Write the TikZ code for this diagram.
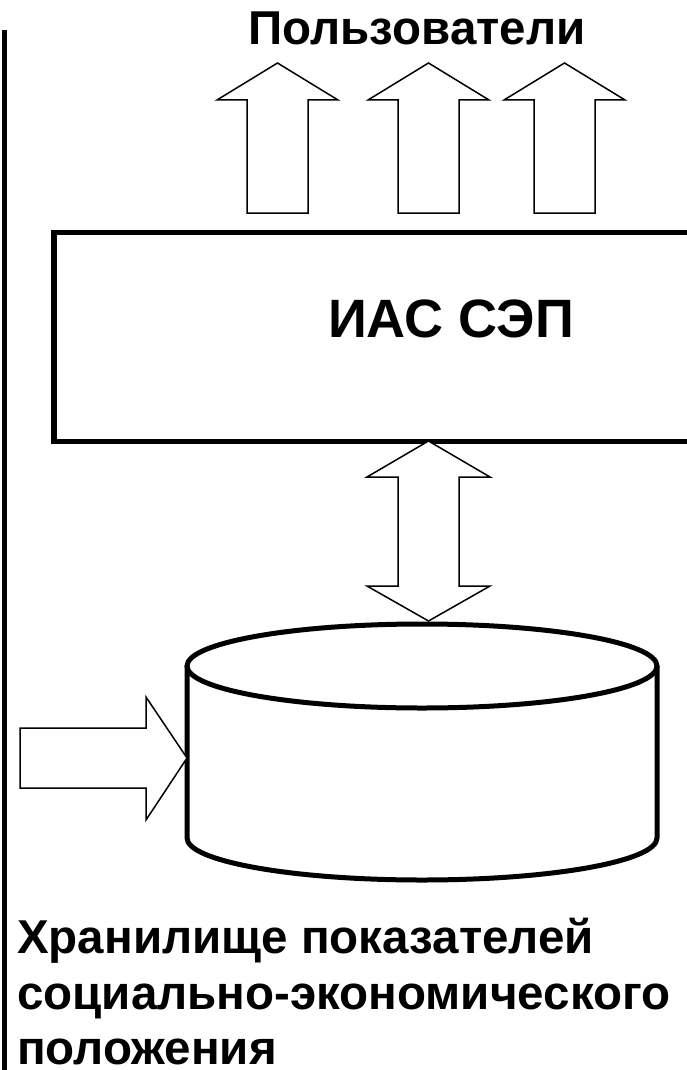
\documentclass[tikz,border=0pt]{standalone}
\usepackage{fontspec}
\setmainfont{Liberation Sans}

\begin{document}
\begin{tikzpicture}[x=1pt, y=1pt,
  blockarrow/.style={draw=black, line width=1.5pt, fill=white, line join=miter},
  heavy/.style={draw=black, line width=5pt},
  caption/.style={inner sep=0pt, font=\bfseries\fontsize{47.5}{57.5}\selectfont}]

  \useasboundingbox (0, 0) rectangle (686, -1070);

  \draw[heavy] (4.5, -30) -- (4.5, -1080);

  % arrows up to the users
  \draw[blockarrow] (247, -213) -- (247, -100) -- (217, -100) -- (277.5, -63) -- (338, -100) -- (308, -100) -- (308, -213) -- cycle;
  \draw[blockarrow] (398, -213) -- (398, -100) -- (368, -100) -- (428.5, -63) -- (489, -100) -- (459, -100) -- (459, -213) -- cycle;
  \draw[blockarrow] (534, -213) -- (534, -100) -- (504, -100) -- (564.5, -63) -- (625, -100) -- (595, -100) -- (595, -213) -- cycle;
  \node[caption, anchor=base] (users) at (417, -45) {Пользователи};

  \node[draw, line width=5.5pt, anchor=north west, minimum width=900pt, minimum height=209pt, inner sep=0pt] (ias) at (51, -229.5) {};
  \node[caption, anchor=base, font=\bfseries\fontsize{54}{60}\selectfont] (iaslabel) at (451, -337) {ИАС СЭП};

  % exchange between system and store
  \draw[blockarrow] (428.5, -441) -- (490, -477) -- (459, -477) -- (459, -586) -- (490, -586) -- (428.5, -621)
    -- (367, -586) -- (398, -586) -- (398, -477) -- (367, -477) -- cycle;

  % store
  \draw[heavy, fill=white] (187, -666) -- (187, -838) arc[start angle=180, end angle=360, x radius=235pt, y radius=42pt] -- (657, -666);
  \draw[heavy] (422, -666) ellipse [x radius=235pt, y radius=42pt];

  \draw[blockarrow] (20, -728) -- (146, -728) -- (146, -697) -- (187, -758) -- (146, -820) -- (146, -788) -- (20, -788) -- cycle;

  \node[caption, anchor=base west] (store1) at (17, -953) {Хранилище показателей};
  \node[caption, anchor=base west] (store2) at (17, -1009) {социально-экономического};
  \node[caption, anchor=base west, text depth=0pt] (store3) at (17, -1064) {положения};

\end{tikzpicture}
\end{document}
